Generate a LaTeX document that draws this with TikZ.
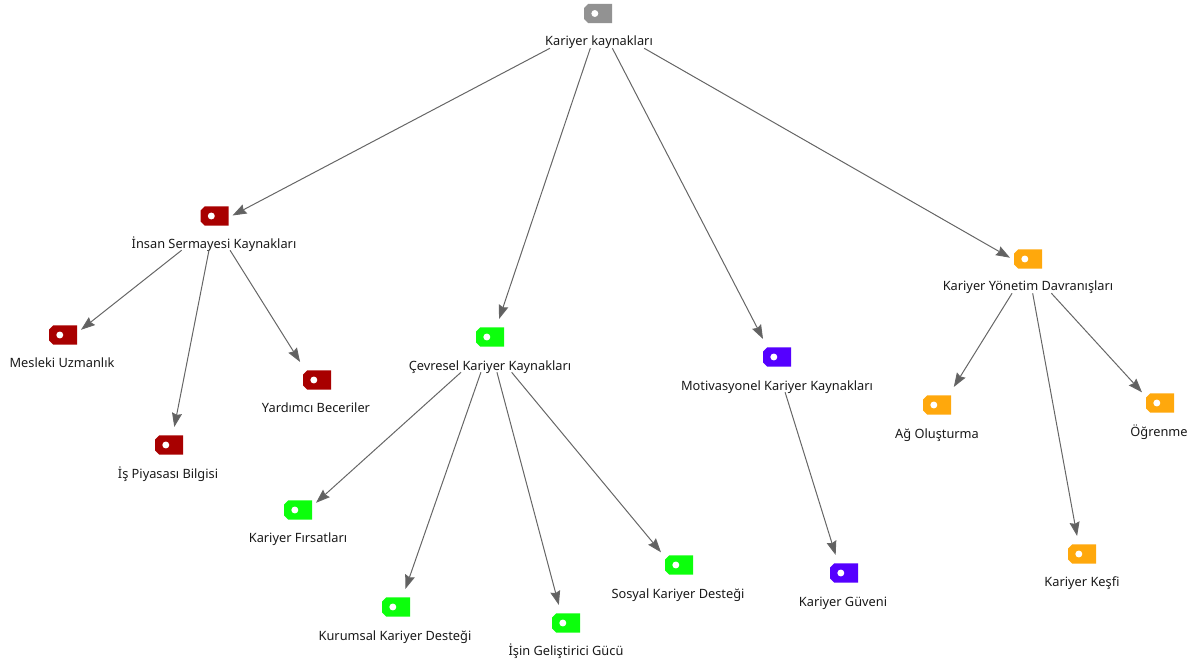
\documentclass[tikz,border=0pt]{standalone}
\usepackage{fontspec}
\setmainfont{Noto Sans}
\usetikzlibrary{arrows.meta,fit}
\tikzset{
  tagframe/.style={inner sep=0pt,outer sep=0pt,minimum width=21pt,minimum height=14.5pt},
  taghole/.style={circle,fill=white,inner sep=0pt,minimum size=5.2pt},
  taglabel/.style={inner sep=0pt,text height=9pt,text depth=1.5pt,font=\fontsize{9.6pt}{10pt}\selectfont,text=black!90},
  tagbox/.style={inner sep=0pt,outer sep=0pt},
  tagport/.style={inner sep=0pt,outer sep=0pt,minimum width=27pt,minimum height=40.5pt},
  conn/.style={draw=black!60,line width=0.75pt,-{Stealth[length=10.5pt,width=7.5pt,fill=black!62,inset=1.2pt]}}
}
\definecolor{cgray}{HTML}{929292}
\definecolor{cred}{HTML}{A80000}
\definecolor{cgreen}{HTML}{0CFF0C}
\definecolor{cblue}{HTML}{5500FF}
\definecolor{corange}{HTML}{FFA80C}
\newcommand{\tagitem}[7]{%
  \node[tagframe] (#1t) at (#2,#3) {};
  \fill[#6] ([xshift=3.2pt]#1t.north west) -- (#1t.north east) -- (#1t.south east)
     -- ([xshift=3.2pt]#1t.south west) -- ([yshift=3.2pt]#1t.south west) -- ([yshift=-3.2pt]#1t.north west) -- cycle;
  \node[taghole] (#1h) at ([xshift=-2.4pt]#1t.center) {};
  \node[taglabel] (#1l) at (#4,#5) {#7};
  \coordinate (#1a) at (#2,{#3-17});
  \node[tagbox,fit=(#1a)(#1l)] (#1) {};
  \node[tagport] (#1p) at (#2,{#3+9}) {};
}
\begin{document}
\begin{tikzpicture}[x=0.75pt,y=-0.75pt]
\useasboundingbox (0,0) rectangle (1200,663);
\tagitem{root}{598}{13.5}{599}{41}{cgray}{Kariyer kaynakları}
\tagitem{ins}{214.5}{216}{214}{243}{cred}{İnsan Sermayesi Kaynakları}
\tagitem{mes}{63}{335}{62}{362}{cred}{Mesleki Uzmanlık}
\tagitem{pia}{169}{445}{168}{473}{cred}{İş Piyasası Bilgisi}
\tagitem{yar}{317}{380}{316}{407}{cred}{Yardımcı Beceriler}
\tagitem{cev}{490}{337}{490}{365}{cgreen}{Çevresel Kariyer Kaynakları}
\tagitem{fir}{298}{510}{298}{537}{cgreen}{Kariyer Fırsatları}
\tagitem{kur}{396}{607}{395}{635}{cgreen}{Kurumsal Kariyer Desteği}
\tagitem{isi}{566}{623}{566}{650}{cgreen}{İşin Geliştirici Gücü}
\tagitem{sos}{679}{565}{678}{593}{cgreen}{Sosyal Kariyer Desteği}
\tagitem{mot}{777}{357}{777}{385}{cblue}{Motivasyonel Kariyer Kaynakları}
\tagitem{guv}{844}{573}{843}{601}{cblue}{Kariyer Güveni}
\tagitem{yon}{1028}{259}{1028}{286}{corange}{Kariyer Yönetim Davranışları}
\tagitem{ago}{937}{405}{937}{433}{corange}{Ağ Oluşturma}
\tagitem{ogr}{1160}{403}{1159}{431}{corange}{Öğrenme}
\tagitem{kes}{1082}{554}{1082}{581}{corange}{Kariyer Keşfi}
\draw[conn] (root) -- (insp);
\draw[conn] (root) -- (cevp);
\draw[conn] (root) -- (motp);
\draw[conn] (root) -- (yonp);
\draw[conn] (ins) -- (mesp);
\draw[conn] (ins) -- (piap);
\draw[conn] (ins) -- (yarp);
\draw[conn] (cev) -- (firp);
\draw[conn] (cev) -- (kurp);
\draw[conn] (cev) -- (isip);
\draw[conn] (cev) -- (sosp);
\draw[conn] (mot) -- (guvp);
\draw[conn] (yon) -- (agop);
\draw[conn] (yon) -- (kesp);
\draw[conn] (yon) -- (ogrp);
\end{tikzpicture}
\end{document}
